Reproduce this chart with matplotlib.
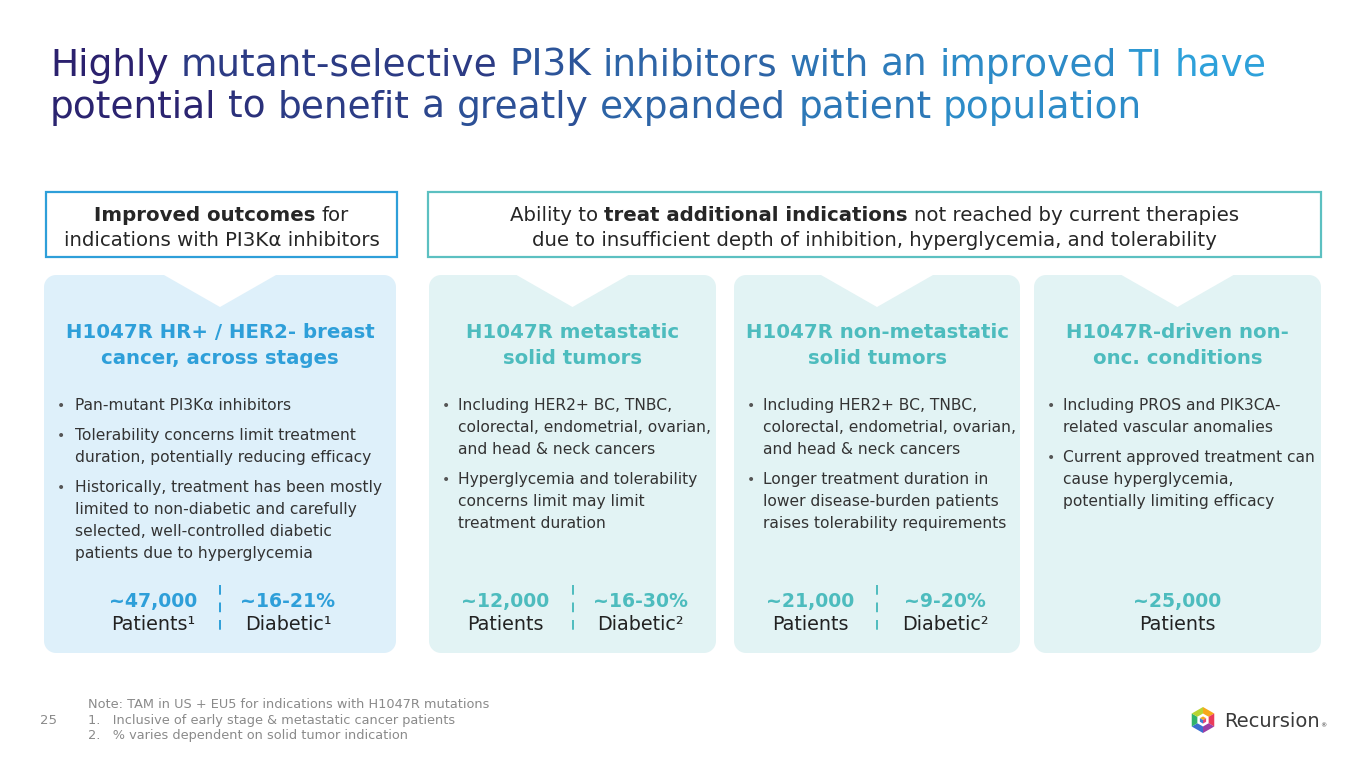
import numpy as np
import matplotlib
matplotlib.use('Agg')
import matplotlib.pyplot as plt
from matplotlib.patches import Polygon, Rectangle
from matplotlib.colors import to_rgb

# slide content
title_lines = ['Highly mutant-selective PI3K inhibitors with an improved TI have',
               'potential to benefit a greatly expanded patient population']

box_lines = [
    [[('Improved outcomes', 'bold'), ('for', 'normal')],
     [('indications with PI3K\u03b1 inhibitors', 'normal')]],
    [[('Ability to', 'normal'), ('treat additional indications', 'bold'),
      ('not reached by current therapies', 'normal')],
     [('due to insufficient depth of inhibition, hyperglycemia, and tolerability', 'normal')]],
]

card_titles = [
    ['H1047R HR+ / HER2- breast', 'cancer, across stages'],
    ['H1047R metastatic', 'solid tumors'],
    ['H1047R non-metastatic', 'solid tumors'],
    ['H1047R-driven non-', 'onc. conditions'],
]

card_bullets = [
    [['Pan-mutant PI3K\u03b1 inhibitors'],
     ['Tolerability concerns limit treatment', 'duration, potentially reducing efficacy'],
     ['Historically, treatment has been mostly', 'limited to non-diabetic and carefully',
      'selected, well-controlled diabetic', 'patients due to hyperglycemia']],
    [['Including HER2+ BC, TNBC,', 'colorectal, endometrial, ovarian,', 'and head & neck cancers'],
     ['Hyperglycemia and tolerability', 'concerns limit may limit', 'treatment duration']],
    [['Including HER2+ BC, TNBC,', 'colorectal, endometrial, ovarian,', 'and head & neck cancers'],
     ['Longer treatment duration in', 'lower disease-burden patients', 'raises tolerability requirements']],
    [['Including PROS and PIK3CA-', 'related vascular anomalies'],
     ['Current approved treatment can', 'cause hyperglycemia,', 'potentially limiting efficacy']],
]

patients = ['~47,000', '~12,000', '~21,000', '~25,000']
patients_labels = ['Patients\u00b9', 'Patients', 'Patients', 'Patients']
diabetic = ['~16-21%', '~16-30%', '~9-20%', None]
diabetic_labels = ['Diabetic\u00b9', 'Diabetic\u00b2', 'Diabetic\u00b2', None]

footnotes = ['Note: TAM in US + EU5 for indications with H1047R mutations',
             '1.   Inclusive of early stage & metastatic cancer patients',
             '2.   % varies dependent on solid tumor indication']
page_number = '25'

# colours
BLUE = '#2e9fd9'
TEAL = '#4dbcbe'
TEXT = '#333333'
GREY = '#8a8a8a'
card_fill = ['#def0fa', '#e2f3f4', '#e2f3f4', '#e2f3f4']
card_accent = [BLUE, TEAL, TEAL, TEAL]
card_x = [(44, 396), (429, 716), (734, 1020), (1034, 1321)]
CARD_TOP, CARD_BOT = 275, 653

plt.rcParams['font.family'] = 'DejaVu Sans'
fig = plt.figure(figsize=(13.65, 7.68), dpi=100)
ax = fig.add_axes([0, 0, 1, 1])
ax.set_xlim(0, 1365)
ax.set_ylim(768, 0)
ax.axis('off')
renderer = fig.canvas.get_renderer()


def text_width(s, **kw):
    t = ax.text(0, 0, s, **kw)
    w = t.get_window_extent(renderer=renderer).width
    t.remove()
    return w


def space_width(**kw):
    return text_width('a a', **kw) - text_width('aa', **kw)


def draw_runs(xc, y, runs, size, color):
    widths = [text_width(s, fontsize=size, fontweight=wt) for s, wt in runs]
    sp = space_width(fontsize=size)
    total = sum(widths) + sp * (len(runs) - 1)
    x = xc - total / 2
    for (s, wt), w in zip(runs, widths):
        ax.text(x, y, s, fontsize=size, fontweight=wt, color=color, va='baseline', ha='left')
        x += w + sp


# title with left-to-right colour gradient, word by word
c0, c1 = np.array(to_rgb('#2b1a68')), np.array(to_rgb('#2ea6de'))
TSIZE = 27
tx0, tx1 = 50, 1265
sp = space_width(fontsize=TSIZE)
for line, yb in zip(title_lines, [76, 118]):
    x = tx0
    for word in line.split(' '):
        w = text_width(word, fontsize=TSIZE)
        f = np.clip((x + w / 2 - tx0) / (tx1 - tx0), 0, 1)
        ax.text(x, yb, word, fontsize=TSIZE, color=c0 + (c1 - c0) * f, va='baseline')
        x += w + sp

# header boxes
for (x0, x1), col, lines in zip([(46, 397), (428, 1321)], [BLUE, '#5cc0c1'], box_lines):
    ax.add_patch(Rectangle((x0, 192), x1 - x0, 65, fill=False, edgecolor=col, linewidth=1.6))
    for runs, yb in zip(lines, [221, 246]):
        draw_runs((x0 + x1) / 2, yb, runs, 14.2, '#262626')


def card_shape(x0, x1, y0, y1, r=12, nh=56, nd=32):
    pts = []
    for cx, cy, a0 in [(x1 - r, y0 + r, -90), (x1 - r, y1 - r, 0), (x0 + r, y1 - r, 90), (x0 + r, y0 + r, 180)]:
        a = np.radians(np.linspace(a0, a0 + 90, 10))
        pts += list(zip(cx + r * np.cos(a), cy + r * np.sin(a)))
    xm = (x0 + x1) / 2
    pts += [(xm - nh, y0), (xm, y0 + nd), (xm + nh, y0)]
    return pts


for i, (x0, x1) in enumerate(card_x):
    acc = card_accent[i]
    xm = (x0 + x1) / 2
    ax.add_patch(Polygon(card_shape(x0, x1, CARD_TOP, CARD_BOT), closed=True,
                         facecolor=card_fill[i], edgecolor='none'))
    for line, yb in zip(card_titles[i], [338, 364]):
        ax.text(xm, yb, line, fontsize=14.2, fontweight='bold', color=acc, ha='center', va='baseline')

    bx = x0 + 13
    tx = x0 + 31 if i == 0 else x0 + 29
    yb = 410
    for bullet in card_bullets[i]:
        ax.text(bx, yb, '\u2022', fontsize=10, color='#555555', va='baseline')
        for line in bullet:
            ax.text(tx, yb, line, fontsize=11.2, color=TEXT, va='baseline')
            yb += 22
        yb += 8

    if diabetic[i] is None:
        ax.text(xm, 607, patients[i], fontsize=13.6, fontweight='bold', color=acc, ha='center', va='baseline')
        ax.text(xm, 630, patients_labels[i], fontsize=13.8, color='#222222', ha='center', va='baseline')
    else:
        for xc, big, small in [(xm - 67, patients[i], patients_labels[i]),
                               (xm + 68, diabetic[i], diabetic_labels[i])]:
            ax.text(xc, 607, big, fontsize=13.6, fontweight='bold', color=acc, ha='center', va='baseline')
            ax.text(xc, 630, small, fontsize=13.8, color='#222222', ha='center', va='baseline')
        ax.plot([xm, xm], [585, 632], color=acc, linewidth=1.4, linestyle=(0, (5, 4)))

# footnotes
for line, yb in zip(footnotes, [708, 724, 739]):
    ax.text(88, yb, line, fontsize=9.3, color=GREY, va='baseline')
ax.text(40, 724, page_number, fontsize=9.5, color=GREY, va='baseline')

# logo
hx, hy, hr = 1203, 720, 13
seg_cols = ['#f6a81c', '#ea3b5a', '#9c3fa4', '#3b6fd0', '#2fb36b', '#b8d433']
ang = np.radians(np.arange(-90, 271, 60))


def hpt(k, rad):
    return (hx + rad * np.cos(ang[k]), hy + rad * np.sin(ang[k]))


for k in range(6):
    ax.add_patch(Polygon([(hx, hy), hpt(k, hr), hpt(k + 1, hr)],
                         closed=True, facecolor=seg_cols[k], edgecolor='none'))
ax.add_patch(Polygon([hpt(k, 6.5) for k in range(6)], closed=True, facecolor='white', edgecolor='none'))
cr = 3.6
for ks, col in [((5, 0, 1), '#f6a81c'), ((1, 2, 3), '#e0457a'), ((3, 4, 5), '#3f7fd6')]:
    ax.add_patch(Polygon([(hx, hy)] + [hpt(k, cr) for k in ks], closed=True,
                         facecolor=col, edgecolor='none'))
ax.text(1224, 727, 'Recursion', fontsize=14, color='#3a3a3a', va='baseline')
ax.text(1320, 727, '\u00ae', fontsize=4.5, color='#3a3a3a', va='baseline')

fig.savefig('out.png', dpi=100)
